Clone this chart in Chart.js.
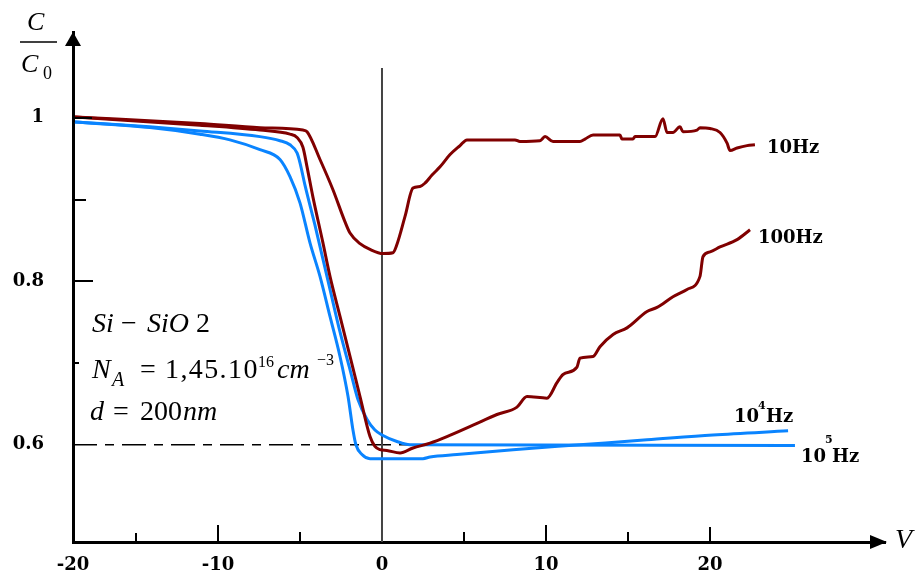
<!DOCTYPE html>
<html>
<head>
<meta charset="utf-8">
<script src="https://cdn.jsdelivr.net/npm/chart.js@4.4.0/dist/chart.umd.min.js"></script>
<style>
  body { margin: 0; background: #fff; }
  canvas { display: block; }
</style>
</head>
<body>
<canvas id="cvChart" width="917" height="581"></canvas>
<script>
// C/C0 versus V for Si-SiO2 at four measuring frequencies
const xMin = -18.84, xMax = 30.67;
const yMin = 0.481, yMax = 1.105;

// axis labels (the "-20" label sits at the axis origin)
const xTickPos = [xMin, -10, 0, 10, 20];
const xTickLabels = ['-20', '-10', '0', '10', '20'];
const xMarks = [-15, -10, -5, 5, 10, 15, 20];
const yTickPos = [1, 0.8, 0.6];
const yTickLabels = ['1', '0.8', '0.6'];
const yMarks = [1, 0.9, 0.8, 0.7];

// 10 Hz
const v10 = [-18.72, -11.10, -7.44, -4.82, -4.57, -3.78, -2.99, -2.26, -1.95, -1.34, -0.73, 0.06, 0.67, 0.91, 1.40, 1.89, 2.32, 2.62, 3.05, 3.54, 4.15, 4.76, 5.18, 8.11, 8.41, 9.63, 9.94, 10.43, 12.07, 12.38, 12.87, 14.51, 14.63, 15.30, 15.43, 16.65, 17.13, 17.38, 17.74, 18.17, 18.35, 19.21, 19.39, 20.00, 20.61, 21.04, 21.22, 21.65, 22.26, 22.74];
const c10 = [1.001, 0.993, 0.988, 0.985, 0.983, 0.949, 0.912, 0.873, 0.859, 0.846, 0.839, 0.834, 0.835, 0.845, 0.879, 0.914, 0.916, 0.920, 0.930, 0.940, 0.955, 0.966, 0.973, 0.973, 0.971, 0.972, 0.977, 0.971, 0.971, 0.974, 0.979, 0.979, 0.974, 0.974, 0.977, 0.977, 0.999, 0.982, 0.982, 0.989, 0.983, 0.985, 0.988, 0.987, 0.982, 0.969, 0.960, 0.963, 0.966, 0.967];

// 100 Hz
const v100 = [-18.72, -11.10, -7.44, -5.61, -5.18, -4.82, -4.57, -4.21, -3.60, -3.17, -2.56, -1.95, -1.34, -0.73, -0.43, -0.12, 0.30, 1.10, 1.89, 2.93, 3.96, 5.55, 7.01, 8.23, 8.84, 10.06, 10.67, 11.04, 11.89, 12.07, 12.87, 13.29, 14.09, 14.94, 16.16, 16.77, 17.74, 18.60, 19.39, 19.57, 20.00, 20.61, 21.65, 22.44];
const c100 = [1.001, 0.991, 0.985, 0.980, 0.976, 0.964, 0.940, 0.903, 0.847, 0.806, 0.757, 0.708, 0.659, 0.610, 0.598, 0.594, 0.593, 0.590, 0.596, 0.602, 0.610, 0.624, 0.637, 0.646, 0.659, 0.657, 0.676, 0.686, 0.695, 0.706, 0.708, 0.720, 0.735, 0.743, 0.763, 0.768, 0.781, 0.790, 0.806, 0.830, 0.836, 0.842, 0.851, 0.863];

// 10^4 Hz
const v1e4 = [-18.72, -14.15, -11.10, -9.27, -7.44, -6.22, -5.61, -5.00, -4.39, -3.78, -3.17, -2.56, -2.07, -1.77, -1.59, -1.22, -0.73, 2.50, 2.93, 4.57, 7.99, 12.07, 16.16, 20.18, 24.76];
const c1e4 = [0.995, 0.988, 0.980, 0.973, 0.961, 0.949, 0.928, 0.896, 0.847, 0.806, 0.757, 0.708, 0.659, 0.618, 0.600, 0.588, 0.583, 0.583, 0.585, 0.588, 0.594, 0.600, 0.606, 0.612, 0.617];

// 10^5 Hz
const v1e5 = [-18.72, -14.15, -11.10, -7.44, -6.22, -5.61, -5.18, -5.00, -4.70, -4.09, -3.17, -2.56, -1.95, -1.46, -0.91, -0.43, 0, 0.91, 1.71, 25.18];
const c1e5 = [0.995, 0.989, 0.984, 0.977, 0.972, 0.967, 0.957, 0.945, 0.918, 0.869, 0.790, 0.738, 0.692, 0.655, 0.631, 0.618, 0.612, 0.604, 0.600, 0.599];

// guide lines: V = 0 and C/C0 = 0.6
const vZero = [0, 0], cZero = [yMin, 1.061];
const vDash = [xMin, 3.54], cDash = [0.6, 0.6];

const MAROON = '#800000';
const BLUE = '#0a84ff';

function pts(xs, ys) {
  return xs.map((v, i) => ({ x: v, y: ys[i] }));
}

function curve(xs, ys, color) {
  return {
    data: pts(xs, ys),
    borderColor: color,
    borderWidth: 3,
    pointRadius: 0,
    cubicInterpolationMode: 'monotone',
    fill: false
  };
}

// keep the plot box where the axes are in the figure
function noPad(s) {
  s.paddingLeft = 0;
  s.paddingRight = 0;
  s.paddingTop = 0;
  s.paddingBottom = 0;
}

const IT = 'italic 28px "Liberation Serif"';
const ITs = 'italic 20px "Liberation Serif"';
const RM = '28px "Liberation Serif"';
const RMs = '16px "Liberation Serif"';
const BD = 'bold 18px "DejaVu Serif"';
const BDs = 'bold 11px "DejaVu Serif"';

function drawParts(ctx, baseline, parts) {
  parts.forEach(([txt, font, px, dy, sp]) => {
    ctx.font = font;
    ctx.letterSpacing = sp || '0px';
    ctx.fillText(txt, px, baseline + (dy || 0));
  });
  ctx.letterSpacing = '0px';
}

const decor = {
  id: 'decor',
  afterDraw(chart) {
    const { ctx, scales: { x, y } } = chart;
    const x0 = x.left, y0 = y.bottom;
    ctx.save();
    ctx.strokeStyle = '#000';
    ctx.fillStyle = '#000';
    ctx.lineWidth = 2;

    // inward tick marks
    const xLen = [9, 17, 10, 10, 17, 10, 15];
    xMarks.forEach((v, i) => {
      const px = Math.round(x.getPixelForValue(v));
      ctx.beginPath();
      ctx.moveTo(px, y0);
      ctx.lineTo(px, y0 - xLen[i]);
      ctx.stroke();
    });
    const yLen = [19, 13, 20, 6];
    yMarks.forEach((v, i) => {
      const py = Math.round(y.getPixelForValue(v));
      ctx.beginPath();
      ctx.moveTo(x0, py);
      ctx.lineTo(x0 + yLen[i], py);
      ctx.stroke();
    });

    // arrow heads
    ctx.beginPath();
    ctx.moveTo(x0, y.top);
    ctx.lineTo(x0 - 8, y.top + 14);
    ctx.lineTo(x0 + 8, y.top + 14);
    ctx.closePath();
    ctx.fill();
    ctx.beginPath();
    ctx.moveTo(x.right + 2, y0);
    ctx.lineTo(x.right - 15, y0 - 7);
    ctx.lineTo(x.right - 15, y0 + 7);
    ctx.closePath();
    ctx.fill();

    // axis names
    ctx.textAlign = 'left';
    ctx.textBaseline = 'alphabetic';
    drawParts(ctx, 30, [['C', 'italic 26px "Liberation Serif"', 27]]);
    ctx.lineWidth = 1.5;
    ctx.beginPath();
    ctx.moveTo(20, 42);
    ctx.lineTo(57, 42);
    ctx.stroke();
    drawParts(ctx, 72, [['C', 'italic 26px "Liberation Serif"', 21], ['0', '18px "Liberation Serif"', 43, 7]]);
    drawParts(ctx, 548, [['V', 'italic 28px "Liberation Serif"', 895]]);

    // sample annotation
    drawParts(ctx, 332, [['Si', IT, 92], ['\u2212', RM, 121], ['SiO', IT, 147], ['2', RM, 196]]);
    drawParts(ctx, 378, [['N', IT, 92], ['A', ITs, 112, 8], ['=', RM, 140], ['1,45.10', RM, 165, 0, '1.4px'],
      ['16', RMs, 258, -11], ['cm', IT, 277], ['\u22123', RMs, 317, -13]]);
    drawParts(ctx, 420, [['d', IT, 90], ['=', RM, 113], ['200', RM, 140], ['nm', IT, 183]]);

    // curve labels
    drawParts(ctx, 153, [['10Hz', BD, 767]]);
    drawParts(ctx, 243, [['100Hz', BD, 758]]);
    drawParts(ctx, 422, [['10', BD, 734], ['4', BDs, 758, -13], ['Hz', BD, 766]]);
    drawParts(ctx, 462, [['10', BD, 801], ['5', BDs, 825, -19], ['Hz', BD, 832]]);

    ctx.restore();
  }
};

new Chart(document.getElementById('cvChart'), {
  type: 'line',
  data: {
    datasets: [
      curve(v10, c10, MAROON),
      curve(v100, c100, MAROON),
      curve(v1e4, c1e4, BLUE),
      curve(v1e5, c1e5, BLUE),
      {
        data: pts(vZero, cZero),
        borderColor: '#444',
        borderWidth: 2,
        pointRadius: 0
      },
      {
        data: pts(vDash, cDash),
        borderColor: '#000',
        borderWidth: 1.5,
        borderDash: [24, 8, 9, 8],
        pointRadius: 0
      }
    ]
  },
  options: {
    responsive: false,
    animation: false,
    layout: { padding: { top: 32, right: 32, left: 0, bottom: 0 } },
    plugins: { legend: { display: false }, tooltip: { enabled: false } },
    scales: {
      x: {
        type: 'linear',
        min: xMin,
        max: xMax,
        afterFit: s => { s.height = 39; noPad(s); },
        afterBuildTicks: s => { s.ticks = xTickPos.map(v => ({ value: v })); },
        grid: { display: false, drawTicks: false },
        border: { display: true, color: '#000', width: 3 },
        ticks: {
          autoSkip: false,
          maxRotation: 0,
          padding: 13,
          color: '#000',
          font: { family: 'DejaVu Serif', weight: 'bold', size: 18 },
          callback: (v, i) => xTickLabels[i]
        }
      },
      y: {
        type: 'linear',
        min: yMin,
        max: yMax,
        afterFit: s => { s.width = 73; noPad(s); },
        afterBuildTicks: s => { s.ticks = yTickPos.map(v => ({ value: v })); },
        grid: { display: false, drawTicks: false },
        border: { display: true, color: '#000', width: 3 },
        ticks: {
          padding: 29,
          color: '#000',
          font: { family: 'DejaVu Serif', weight: 'bold', size: 18 },
          callback: (v, i) => yTickLabels[i]
        }
      }
    }
  },
  plugins: [decor]
});
</script>
</body>
</html>
